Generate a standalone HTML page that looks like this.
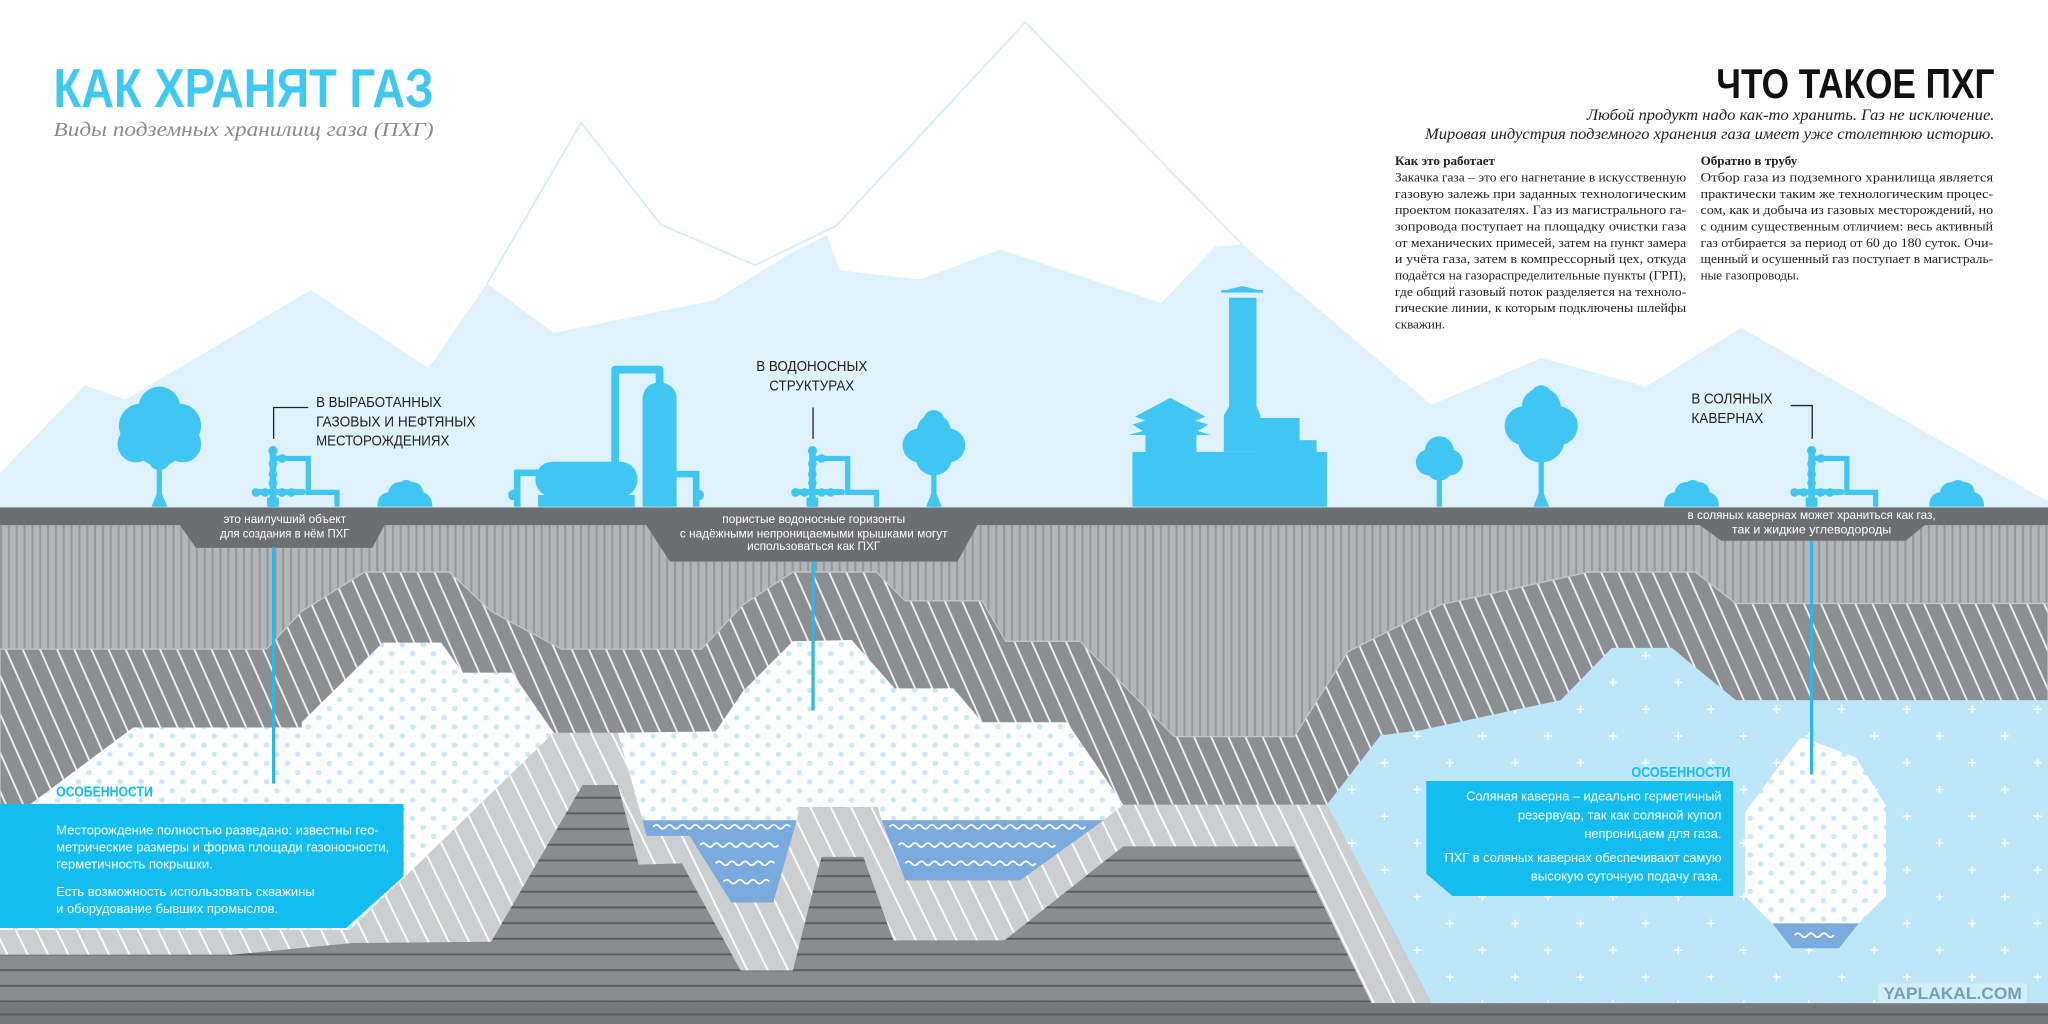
<!DOCTYPE html>
<html><head><meta charset="utf-8"><style>
html,body{margin:0;padding:0;background:#fff;}
svg{display:block;}
.cn{font-family:"Liberation Sans Narrow","Liberation Sans",sans-serif;}
.sf{font-family:"Liberation Serif",serif;}
</style></head><body>
<svg width="2048" height="1024" viewBox="0 0 1568 784" xmlns="http://www.w3.org/2000/svg">
<defs>
<pattern id="vs" width="6" height="10" patternUnits="userSpaceOnUse"><rect width="6" height="10" fill="#b3b5b8"/><rect x="0" width="1.6" height="10" fill="#95979a"/></pattern>
<pattern id="dh" width="12" height="12" patternUnits="userSpaceOnUse" patternTransform="rotate(-24)"><rect width="12" height="12" fill="#8c8e91"/><rect x="5" width="1.4" height="12" fill="#f2f2f2"/></pattern>
<pattern id="lh" width="14" height="14" patternUnits="userSpaceOnUse" patternTransform="rotate(-26)"><rect width="14" height="14" fill="#cdcecf"/><rect x="6" width="1.4" height="14" fill="#fff"/></pattern>
<pattern id="hb" width="20" height="12" patternUnits="userSpaceOnUse"><rect width="20" height="12" fill="#8b8c8f"/><rect y="10" width="20" height="1.5" fill="#5a5b5e"/></pattern>
<pattern id="dots" width="16" height="14" patternUnits="userSpaceOnUse"><rect width="16" height="14" fill="#fff"/><circle cx="4" cy="3.5" r="2.1" fill="#c8e9f8"/><circle cx="12" cy="10.5" r="2.1" fill="#c8e9f8"/></pattern>
<pattern id="cross" width="50" height="41" patternUnits="userSpaceOnUse"><rect width="50" height="41" fill="#bde6f8"/><path d="M10 7v6M7 10h6M35 27.5v6M32 30.5h6" stroke="#fff" stroke-width="1.2"/></pattern>
</defs>

<polygon fill="#dff2fb" points="0,362 65,295 96,306 238,222 328,282 373,217 424,255 547,230 605,194 633,180 643,207 704,214 766,191 889,232 930,189 951,187 1096,310 1180,274 1260,296 1333,251 1568,384 1568,392 0,392"/>
<polyline fill="none" stroke="#d4edf9" stroke-width="1.4" points="373,217 445,94 506,172 578,203 640,173 785,17 951,187"/>

<text class="cn" x="41" y="82" font-size="42" font-weight="bold" fill="#3ec8f2" textLength="291" lengthAdjust="spacingAndGlyphs">КАК ХРАНЯТ ГАЗ</text>
<text class="sf" x="41" y="104" font-size="15" font-style="italic" fill="#8a8b8d" textLength="291" lengthAdjust="spacingAndGlyphs">Виды подземных хранилищ газа (ПХГ)</text>

<text class="cn" x="1527" y="75" font-size="32" font-weight="bold" fill="#111" text-anchor="end" textLength="213" lengthAdjust="spacingAndGlyphs">ЧТО ТАКОЕ ПХГ</text>
<g class="sf" font-style="italic" font-size="12" fill="#222">
<text x="1215" y="92" textLength="312" lengthAdjust="spacingAndGlyphs">Любой продукт надо как-то хранить. Газ не исключение.</text>
<text x="1091" y="106.6" textLength="436" lengthAdjust="spacingAndGlyphs">Мировая индустрия подземного хранения газа имеет уже столетнюю историю.</text>
</g>
<g class="sf" font-size="10" fill="#222">
<text x="1068" y="126.3" font-weight="bold">Как это работает</text>
<text x="1068" y="139.1" textLength="223" lengthAdjust="spacingAndGlyphs">Закачка газа – это его нагнетание в искусственную</text>
<text x="1068" y="151.5" textLength="223" lengthAdjust="spacingAndGlyphs">газовую залежь при заданных технологическим</text>
<text x="1068" y="164" textLength="223" lengthAdjust="spacingAndGlyphs">проектом показателях. Газ из магистрального га-</text>
<text x="1068" y="176.5" textLength="223" lengthAdjust="spacingAndGlyphs">зопровода поступает на площадку очистки газа</text>
<text x="1068" y="189" textLength="223" lengthAdjust="spacingAndGlyphs">от механических примесей, затем на пункт замера</text>
<text x="1068" y="201.5" textLength="223" lengthAdjust="spacingAndGlyphs">и учёта газа, затем в компрессорный цех, откуда</text>
<text x="1068" y="214" textLength="223" lengthAdjust="spacingAndGlyphs">подаётся на газораспределительные пункты (ГРП),</text>
<text x="1068" y="226.5" textLength="223" lengthAdjust="spacingAndGlyphs">где общий газовый поток разделяется на техноло-</text>
<text x="1068" y="239" textLength="223" lengthAdjust="spacingAndGlyphs">гические линии, к которым подключены шлейфы</text>
<text x="1068" y="251.4">скважин.</text>
<text x="1302" y="126.3" font-weight="bold">Обратно в трубу</text>
<text x="1302" y="139.1" textLength="224" lengthAdjust="spacingAndGlyphs">Отбор газа из подземного хранилища является</text>
<text x="1302" y="151.5" textLength="224" lengthAdjust="spacingAndGlyphs">практически таким же технологическим процес-</text>
<text x="1302" y="164" textLength="224" lengthAdjust="spacingAndGlyphs">сом, как и добыча из газовых месторождений, но</text>
<text x="1302" y="176.5" textLength="224" lengthAdjust="spacingAndGlyphs">с одним существенным отличием: весь активный</text>
<text x="1302" y="189" textLength="224" lengthAdjust="spacingAndGlyphs">газ отбирается за период от 60 до 180 суток. Очи-</text>
<text x="1302" y="201.5" textLength="224" lengthAdjust="spacingAndGlyphs">щенный и осушенный газ поступает в магистраль-</text>
<text x="1302" y="214">ные газопроводы.</text>
</g>

<g fill="#40c6f2">
<circle cx="122" cy="312" r="16"/><circle cx="108" cy="326" r="17"/><circle cx="137" cy="326" r="17"/><circle cx="104" cy="340" r="14"/><circle cx="140" cy="340" r="14"/><circle cx="122" cy="338" r="19"/><circle cx="122" cy="352" r="8"/>
<rect x="120" y="350" width="4" height="38"/><path d="M116 388 L120 378 L124 378 L128 388Z"/>
<path d="M289 388 q0 -10 8 -11 q2 -8 10 -8 q4 -3 8 0 q8 0 9 8 q7 2 7 11Z"/>
<circle cx="715" cy="330" r="13"/><circle cx="704" cy="341" r="13"/><circle cx="726" cy="341" r="13"/><circle cx="715" cy="350" r="14"/><circle cx="715" cy="322" r="8"/>
<rect x="713" y="350" width="4" height="38"/><path d="M709 388 L713 378 L717 378 L721 388Z"/>
<circle cx="1102" cy="345" r="11"/><circle cx="1094" cy="354" r="10"/><circle cx="1110" cy="354" r="10"/><circle cx="1102" cy="358" r="10"/>
<rect x="1100" y="360" width="4" height="28"/>
<circle cx="1180" cy="312" r="15"/><circle cx="1167" cy="326" r="15"/><circle cx="1193" cy="326" r="15"/><circle cx="1180" cy="336" r="18"/><circle cx="1180" cy="303" r="8"/>
<rect x="1178" y="345" width="4" height="43"/><path d="M1174 388 L1178 378 L1182 378 L1186 388Z"/>
<path d="M1274 388 q0 -10 8 -11 q2 -8 10 -8 q4 -3 8 0 q8 0 9 8 q7 2 7 11Z"/>
<path d="M1477 388 q0 -10 8 -11 q2 -8 10 -8 q4 -3 8 0 q8 0 9 8 q7 2 7 11Z"/>
<rect x="410" y="353.5" width="78" height="27" rx="13"/>
<rect x="412" y="379" width="74" height="9"/>
<path d="M396 388 V362 H412" fill="none" stroke="#40c6f2" stroke-width="5"/>
<circle cx="393" cy="379" r="4"/>
<path d="M471 356 V283 H505 V296" fill="none" stroke="#40c6f2" stroke-width="6" stroke-linejoin="round"/>
<rect x="492" y="293" width="26" height="95" rx="12"/>
<rect x="492" y="305" width="26" height="83"/>
<path d="M518 363 H533 V388" fill="none" stroke="#40c6f2" stroke-width="5"/>
<circle cx="535" cy="379" r="4"/>
<rect x="867" y="346" width="149" height="42"/>
<rect x="877" y="333" width="39" height="14"/>
<path d="M864 333 H927 L917 330 L925 325 L915 322 L923 319 L896 304.5 L869 319 L877 322 L867 325 L875 330 Z"/>
<path d="M937 346 V318 L941 311 V228 H962 V311 L965 318 V346Z"/>
<path d="M935 223 H967 L951 219Z"/><rect x="935" y="222" width="32" height="2"/>
<rect x="962" y="320" width="33" height="27"/><rect x="995" y="337" width="13" height="10"/>
</g>

<g id="well" fill="#40c6f2" stroke="none">
<rect x="206.5" y="345" width="5" height="43"/>
<circle cx="209" cy="345" r="3.5"/><circle cx="209" cy="355" r="3.3"/><circle cx="209" cy="363" r="3.3"/><circle cx="209" cy="370" r="3.3"/>
<path d="M209 351 H236 V377 H258 V388" fill="none" stroke="#40c6f2" stroke-width="4"/>
<rect x="194" y="374.5" width="40" height="4.5" rx="2"/>
<circle cx="196" cy="377" r="3.3"/><circle cx="203" cy="377" r="3.3"/><circle cx="216" cy="377" r="3.3"/><circle cx="223" cy="377" r="3.3"/>
<circle cx="216" cy="351" r="3.3"/>
<rect x="204.5" y="381" width="9" height="7"/>
</g>
<use href="#well" x="413"/>
<use href="#well" x="1178"/>
<g fill="none" stroke="#222" stroke-width="1">
<path d="M209.5 336 V312 H236"/>
<path d="M622.5 336 V312"/>
<path d="M1387.5 336 V310.5 H1371"/>
</g>
<g class="cn" font-size="11" fill="#222" lengthAdjust="spacingAndGlyphs">
<text x="242" y="311.5" textLength="96" lengthAdjust="spacingAndGlyphs">В ВЫРАБОТАННЫХ</text>
<text x="242" y="326.5" textLength="122" lengthAdjust="spacingAndGlyphs">ГАЗОВЫХ И НЕФТЯНЫХ</text>
<text x="242" y="341" textLength="102" lengthAdjust="spacingAndGlyphs">МЕСТОРОЖДЕНИЯХ</text>
<text x="579" y="284" textLength="85" lengthAdjust="spacingAndGlyphs">В ВОДОНОСНЫХ</text>
<text x="589" y="299" textLength="65" lengthAdjust="spacingAndGlyphs">СТРУКТУРАХ</text>
<text x="1295" y="309" textLength="62" lengthAdjust="spacingAndGlyphs">В СОЛЯНЫХ</text>
<text x="1295" y="324" textLength="55" lengthAdjust="spacingAndGlyphs">КАВЕРНАХ</text>
</g>

<rect x="0" y="400" width="1568" height="384" fill="url(#vs)"/>
<polygon fill="url(#dh)" stroke="#c4c5c7" stroke-width="1" points="0,497 204,497 231,468 279,438 344,438 376,468 430,497 537,497 569,463 607,438 671,438 693,460 752,460 770,491 827,491 899,564 991,564 1032,499 1103,463 1216,438 1298,438 1329,462 1568,462 1568,784 0,784"/>
<polygon fill="url(#lh)" points="0,712 268,712 424,561 473,561 492,628 612,618 672,618 675,628 845,628 860,616 1016,616 1096,768 0,768"/>
<polygon fill="url(#dots)" points="102,557 231,557 231,553 293,492 338,492 354,515 392,515 424,561 268,712 0,712 0,633"/>
<polygon fill="url(#dots)" points="473,561 548,560 569,529 607,491 652,490 685,527 730,527 752,553 817,553 860,616 845,628 675,628 672,618 612,618 610,628 492,628"/>
<polygon fill="#7aaade" points="492,628 610,628 592,691 560,691 528,640 495,640"/>
<polygon fill="#7aaade" points="675,628 845,628 781,674 693,674"/>
<g fill="none" stroke="#fff" stroke-width="1.3">
<path d="M500 633 q2.5 -3 5 0 t5 0 t5 0 t5 0 t5 0 t5 0 t5 0 t5 0 t5 0 t5 0 t5 0 t5 0 t5 0 t5 0 t5 0 t5 0 t5 0 t5 0 t5 0 t5 0 t5 0"/>
<path d="M536 647 q2.5 -3 5 0 t5 0 t5 0 t5 0 t5 0 t5 0 t5 0 t5 0 t5 0 t5 0 t5 0 t5 0"/>
<path d="M548 661 q2.5 -3 5 0 t5 0 t5 0 t5 0 t5 0 t5 0 t5 0 t5 0 t5 0"/>
<path d="M554 675 q2.5 -3 5 0 t5 0 t5 0 t5 0 t5 0 t5 0 t5 0"/>
<path d="M681 633 q2.5 -3 5 0 t5 0 t5 0 t5 0 t5 0 t5 0 t5 0 t5 0 t5 0 t5 0 t5 0 t5 0 t5 0 t5 0 t5 0 t5 0 t5 0 t5 0 t5 0 t5 0 t5 0 t5 0 t5 0 t5 0 t5 0 t5 0 t5 0 t5 0 t5 0 t5 0"/>
<path d="M688 647 q2.5 -3 5 0 t5 0 t5 0 t5 0 t5 0 t5 0 t5 0 t5 0 t5 0 t5 0 t5 0 t5 0 t5 0 t5 0 t5 0 t5 0 t5 0 t5 0 t5 0 t5 0 t5 0 t5 0 t5 0 t5 0"/>
<path d="M693 661 q2.5 -3 5 0 t5 0 t5 0 t5 0 t5 0 t5 0 t5 0 t5 0 t5 0 t5 0 t5 0 t5 0 t5 0 t5 0 t5 0 t5 0 t5 0 t5 0 t5 0 t5 0"/>
</g>
<polygon fill="url(#hb)" points="0,731 177,731 270,722 376,721 446,601 473,601 489,662 522,661 567,743 607,743 629,656 661,656 684,720 769,720 860,648 991,648 1050,768 0,768"/>
<rect x="0" y="768" width="1568" height="16" fill="#78797c"/>
<rect x="0" y="776" width="1568" height="1.5" fill="#5a5b5e"/>
<polygon fill="url(#cross)" points="1016,616 1057,563 1088,559 1195,536 1234,496 1280,496 1329,536 1568,536 1568,768 1096,768"/>
<polygon fill="url(#dots)" points="1379,564 1421,580 1444,617 1444,686 1423,707 1357,707 1336,686 1336,622 1369,577"/>
<polygon fill="#7aaade" points="1357,707 1423,707 1408,726 1372,726"/>
<path d="M1374 716 q2.5 -3 5 0 t5 0 t5 0 t5 0 t5 0 t5 0" fill="none" stroke="#fff" stroke-width="1.3"/>

<rect x="0" y="388.5" width="1568" height="13.5" fill="#6d6e71"/>
<polygon fill="#6d6e71" points="137,401 295,401 285,419.5 150,419.5"/>
<polygon fill="#6d6e71" points="494,401 749,401 733,430 513,430"/>
<polygon fill="#6d6e71" points="1300,401 1475,401 1459,414 1318,414"/>
<g class="cn" font-size="9.5" fill="#fff" text-anchor="middle">
<text x="218" y="400.5" textLength="94" lengthAdjust="spacingAndGlyphs">это наилучший объект</text>
<text x="218" y="411.5" textLength="99" lengthAdjust="spacingAndGlyphs">для создания в нём ПХГ</text>
<text x="623" y="400.5" textLength="140" lengthAdjust="spacingAndGlyphs">пористые водоносные горизонты</text>
<text x="623" y="411.5" textLength="205" lengthAdjust="spacingAndGlyphs">с надёжными непроницаемыми крышками могут</text>
<text x="623" y="421" textLength="102" lengthAdjust="spacingAndGlyphs">использоваться как ПХГ</text>
<text x="1387" y="397.5" textLength="190" lengthAdjust="spacingAndGlyphs">в соляных кавернах может храниться как газ,</text>
<text x="1387" y="408.5" textLength="122" lengthAdjust="spacingAndGlyphs">так и жидкие углеводороды</text>
</g>
<g stroke="#2cb6ea" stroke-width="2.5">
<line x1="209.5" y1="419" x2="209.5" y2="600"/>
<line x1="622.5" y1="430" x2="622.5" y2="544"/>
<line x1="1387" y1="414" x2="1387" y2="593"/>
</g>

<polygon fill="#14bdf0" points="0,615.5 309,615.5 309,671 265,710.5 0,710.5"/>
<text class="cn" x="43" y="610" font-size="11" font-weight="bold" fill="#14bdf0" textLength="74" lengthAdjust="spacingAndGlyphs">ОСОБЕННОСТИ</text>
<g class="cn" font-size="10" fill="#fff">
<text x="43" y="639" textLength="247" lengthAdjust="spacingAndGlyphs">Месторождение полностью разведано: известны гео-</text>
<text x="43" y="652" textLength="255" lengthAdjust="spacingAndGlyphs">метрические размеры и форма площади газоносности,</text>
<text x="43" y="665" textLength="120" lengthAdjust="spacingAndGlyphs">герметичность покрышки.</text>
<text x="43" y="686" textLength="198" lengthAdjust="spacingAndGlyphs">Есть возможность использовать скважины</text>
<text x="43" y="699" textLength="170" lengthAdjust="spacingAndGlyphs">и оборудование бывших промыслов.</text>
</g>
<polygon fill="#14bdf0" points="1092,598 1327,598 1327,686 1112,686 1092,669"/>
<text class="cn" x="1249" y="595" font-size="11" font-weight="bold" fill="#14bdf0" textLength="76" lengthAdjust="spacingAndGlyphs">ОСОБЕННОСТИ</text>
<g class="cn" font-size="10" fill="#fff">
<text x="1122.5" y="613" textLength="195.5" lengthAdjust="spacingAndGlyphs">Соляная каверна – идеально герметичный</text>
<text x="1162" y="627.5" textLength="156" lengthAdjust="spacingAndGlyphs">резервуар, так как соляной купол</text>
<text x="1213" y="641.5" textLength="105" lengthAdjust="spacingAndGlyphs">непроницаем для газа.</text>
<text x="1106" y="660" textLength="212" lengthAdjust="spacingAndGlyphs">ПХГ в соляных кавернах обеспечивают самую</text>
<text x="1172" y="674" textLength="146" lengthAdjust="spacingAndGlyphs">высокую суточную подачу газа.</text>
</g>

<rect x="1438" y="753" width="114" height="15" fill="#d2eefa"/>
<text class="cn" x="1495" y="765" font-size="13" font-weight="bold" fill="#7d9db6" text-anchor="middle" textLength="106" lengthAdjust="spacingAndGlyphs">YAPLAKAL.COM</text>
</svg>
</body></html>
